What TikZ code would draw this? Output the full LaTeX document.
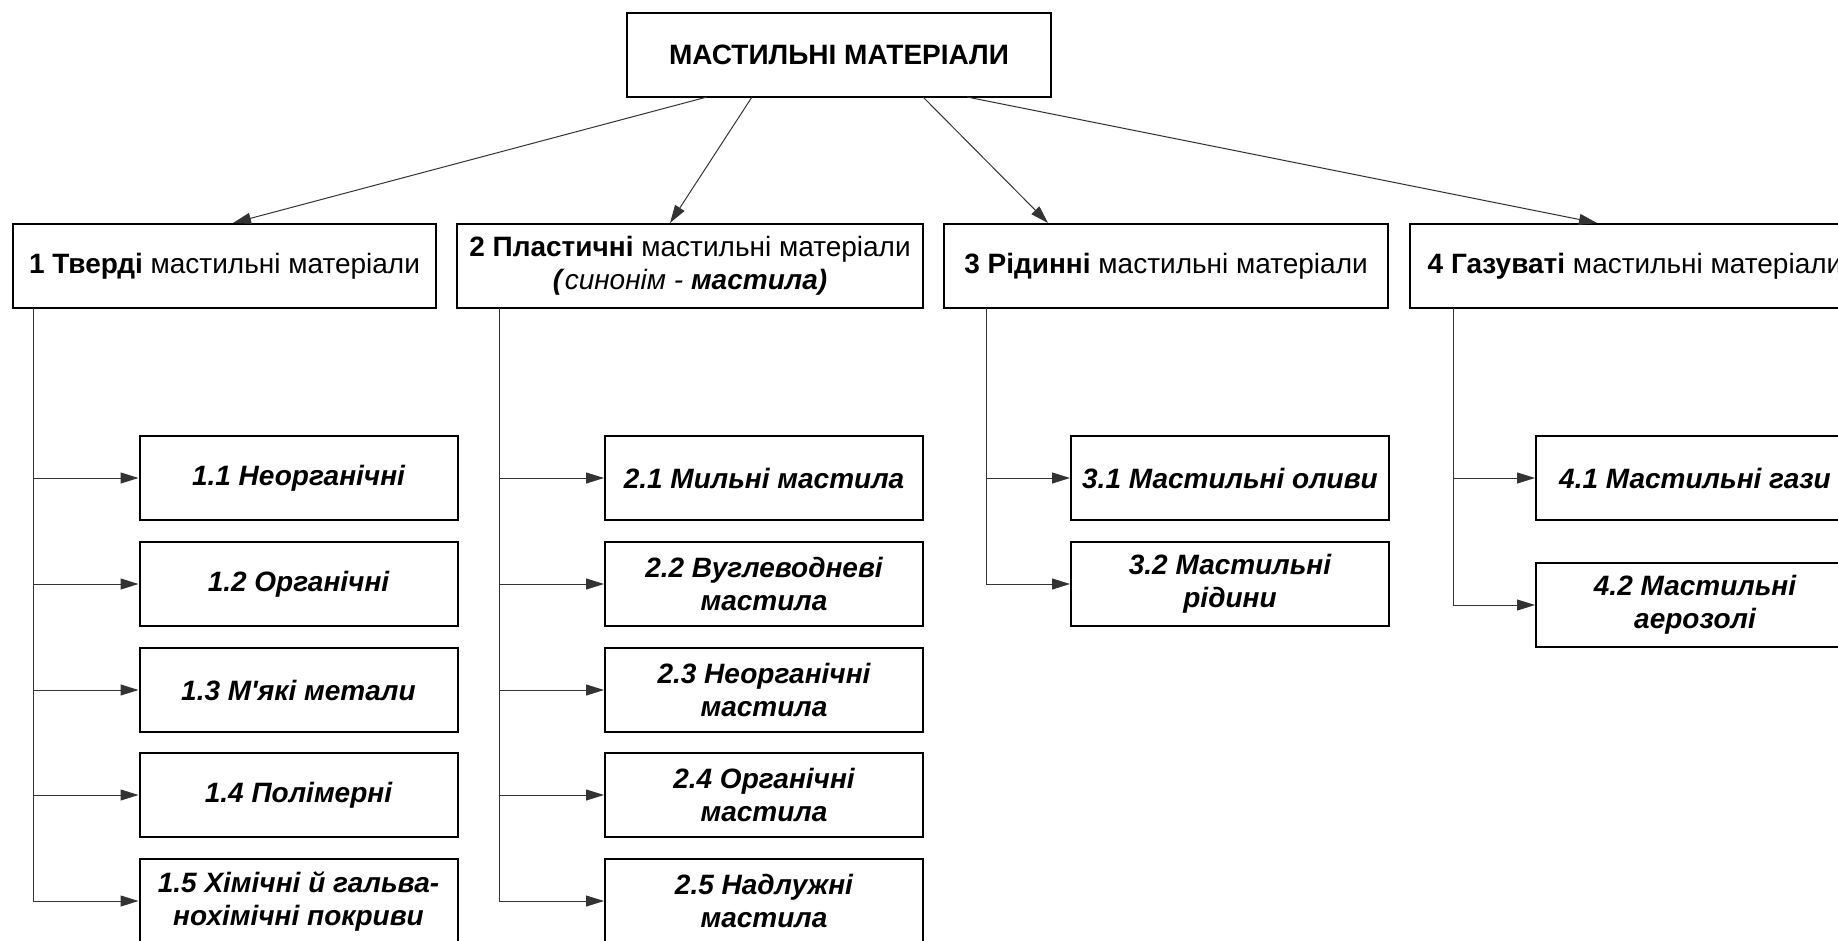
\documentclass[tikz,border=0pt]{standalone}
\usepackage{fontspec}
\setmainfont{Liberation Sans}
\usetikzlibrary{arrows.meta}
\begin{document}
\begin{tikzpicture}[x=1pt,y=-1pt,
  box/.style={draw=black,line width=2pt,rectangle,inner sep=0pt,align=center,
    minimum height=84pt,font=\fontsize{28}{33}\selectfont},
  topbox/.style={box,minimum width=424pt,font=\fontsize{28}{33}\selectfont\bfseries},
  kid/.style={box,minimum width=318pt,font=\fontsize{28}{33}\selectfont\bfseries\itshape},
  conn/.style={draw=black!80,line width=1pt},
  arr/.style={conn,-{Triangle[length=18pt,width=11pt]}}
]
\useasboundingbox (0,0) rectangle (1838,941);

\node[topbox] (top) at (839,55) {МАСТИЛЬНІ МАТЕРІАЛИ};

\node[box,minimum width=423pt] (a1) at (224.5,266) {\textbf{1 Тверді} мастильні матеріали};
\node[box,minimum width=466pt] (a2) at (690,266) {\textbf{2 Пластичні} мастильні матеріали\\\textbf{\textit{(}}\textit{синонім - }\textbf{\textit{мастила)}}};
\node[box,minimum width=444pt] (a3) at (1166,266) {\textbf{3 Рідинні} мастильні матеріали};
\node[box,minimum width=450pt] (a4) at (1635,266) {\textbf{4 Газуваті} мастильні матеріали};

\node[kid] (c11) at (298.5,478) {1.1 Неорганічні};
\node[kid] (c12) at (298.5,584) {1.2 Органічні};
\node[kid] (c13) at (298.5,690) {1.3 М\textquotesingle які метали};
\node[kid] (c14) at (298.5,795) {1.4 Полімерні};
\node[kid] (c15) at (298.5,901) {1.5 Хімічні й гальва-\\нохімічні покриви};

\node[kid] (c21) at (764,478) {2.1 Мильні мастила};
\node[kid] (c22) at (764,584) {2.2 Вуглеводневі\\мастила};
\node[kid] (c23) at (764,690) {2.3 Неорганічні\\мастила};
\node[kid] (c24) at (764,795) {2.4 Органічні\\мастила};
\node[kid] (c25) at (764,901) {2.5 Надлужні\\мастила};

\node[kid] (c31) at (1230,478) {3.1 Мастильні оливи};
\node[kid] (c32) at (1230,584) {3.2 Мастильні\\рідини};

\node[kid] (c41) at (1695,478) {4.1 Мастильні гази};
\node[kid] (c42) at (1695,605) {4.2 Мастильні\\аерозолі};

% top arrows
\coordinate (o1) at (707,97);
\coordinate (o2) at (752,97);
\coordinate (o3) at (923,97);
\coordinate (o4) at (967,97);
\draw[arr] (o1) -- ([xshift=8.5pt]a1.north);
\draw[arr] (o2) -- ([xshift=-20pt]a2.north);
\draw[arr] (o3) -- ([xshift=-118pt]a3.north);
\draw[arr] (o4) -- ([xshift=-38pt]a4.north);

% trunks
\coordinate (s1) at (33,308);
\coordinate (s2) at (499,308);
\coordinate (s3) at (986,308);
\coordinate (s4) at (1453,308);

\draw[arr] (s1) |- (c15.west);
\foreach \c in {c11,c12,c13,c14} \draw[arr] (s1 |- \c.west) -- (\c.west);
\draw[arr] (s2) |- (c25.west);
\foreach \c in {c21,c22,c23,c24} \draw[arr] (s2 |- \c.west) -- (\c.west);
\draw[arr] (s3) |- (c32.west);
\draw[arr] (s3 |- c31.west) -- (c31.west);
\draw[arr] (s4) |- (c42.west);
\draw[arr] (s4 |- c41.west) -- (c41.west);
\end{tikzpicture}
\end{document}
